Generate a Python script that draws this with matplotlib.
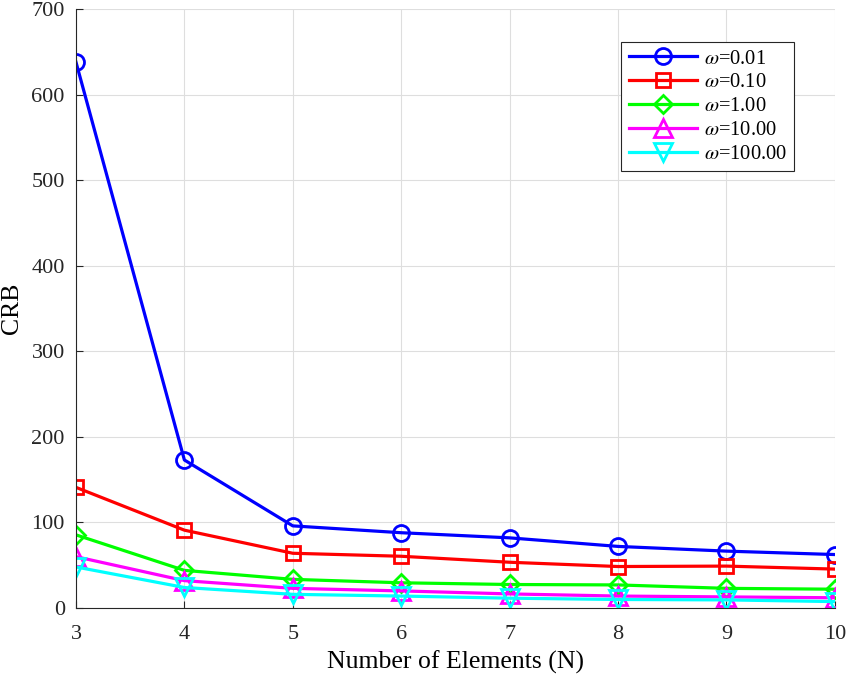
import matplotlib
matplotlib.use("Agg")
import matplotlib.pyplot as plt

plt.rcParams['font.family'] = ['Liberation Serif', 'DejaVu Serif']
plt.rcParams['mathtext.fontset'] = 'stix'

N = [3, 4, 5, 6, 7, 8, 9, 10]
crb_w001 = [638, 173, 96, 88, 82, 72, 66.5, 62.5]
crb_w010 = [141, 91, 64, 60.5, 53.5, 48.5, 49, 45.5]
crb_w1 = [85.5, 44, 33.5, 29.5, 27.5, 27, 23, 22]
crb_w10 = [60, 32, 23, 20, 16.5, 14, 13, 12]
crb_w100 = [48, 24, 16, 14, 11.5, 10, 9.5, 7.5]
labels = [r'$\omega$=0.01', r'$\omega$=0.10', r'$\omega$=1.00', r'$\omega$=10.00', r'$\omega$=100.00']
colors = ['#0000ff', '#ff0000', '#00ff00', '#ff00ff', '#00ffff']
markers = ['o', 's', 'D', '^', 'v']
msizes = [11.5, 9.5, 9, 13, 13]
series = [crb_w001, crb_w010, crb_w1, crb_w10, crb_w100]

fig = plt.figure(figsize=(8.47, 6.78), dpi=100)
ax = fig.add_axes([0.0897, 0.1032, 0.896, 0.8835])
for y, lab, c, m, ms in zip(series, labels, colors, markers, msizes):
    ax.plot(N, y, color=c, marker=m, markersize=ms, markerfacecolor='none',
            markeredgewidth=2, linewidth=2.3, label=lab)

ax.set_xlim(3, 10)
ax.set_ylim(0, 700)
ax.set_xticks(N)
ax.set_yticks(range(0, 701, 100))
ax.grid(True, color='#dedede', linewidth=0.8)
ax.set_axisbelow(True)
ax.tick_params(direction='in', labelsize=16, length=5, colors='#262626', top=False, right=False)
ax.tick_params(axis='y', pad=8)
ax.tick_params(axis='x', pad=12)
for s in ax.spines.values():
    s.set_color('#262626')
    s.set_linewidth(0.8)
ax.spines['top'].set_visible(False)
ax.spines['right'].set_visible(False)
ax.set_xlabel('Number of Elements (N)', fontsize=18.5, labelpad=5)
ax.set_ylabel('CRB', fontsize=18.5, labelpad=6)
leg = ax.legend(loc='upper right', bbox_to_anchor=(0.946, 0.945), fontsize=14.8,
                fancybox=False, edgecolor='#262626', framealpha=1,
                handlelength=3.35, borderpad=0.35, labelspacing=0.22, handletextpad=0.3,
                borderaxespad=0)
leg.get_frame().set_linewidth(0.8)
fig.savefig('out.png', dpi=100)
